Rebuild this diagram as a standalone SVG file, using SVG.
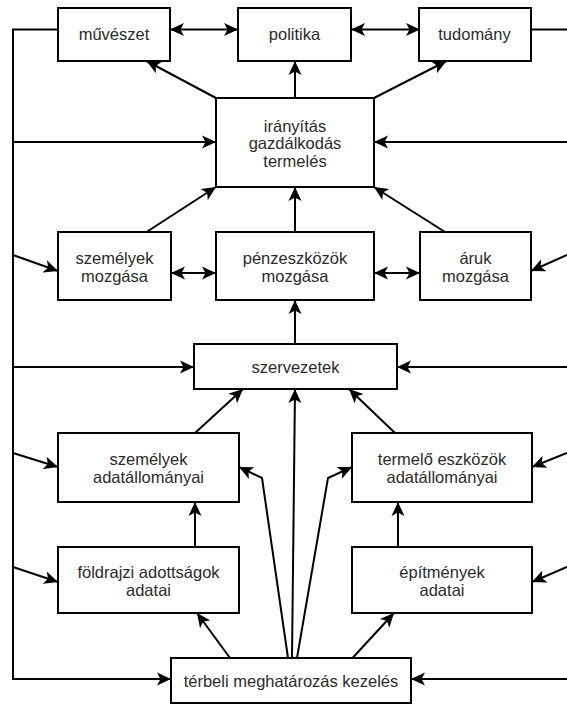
<svg xmlns="http://www.w3.org/2000/svg" width="567" height="704" viewBox="0 0 567 704">
<style>
.box{fill:#fff;stroke:#000;stroke-width:2}
.t{font-family:"Liberation Sans",Arial,sans-serif;font-size:16.5px;fill:#2b2b2b;text-anchor:middle}
.c{fill:none;stroke:#000;stroke-width:2}
.a{marker-end:url(#ah)}
.d{marker-start:url(#ah);marker-end:url(#ah)}
</style>
<defs>
<marker id="ah" markerUnits="userSpaceOnUse" markerWidth="15" markerHeight="14" viewBox="0 0 15 14" refX="14" refY="7" orient="auto-start-reverse">
<path d="M0,0.5 L14,7 L0,13.5 L3.5,7 z" fill="#000"/>
</marker>
</defs>
<rect width="567" height="704" fill="#fff"/>
<g id="connectors">
<path class="c a" d="M58 29.5 H13 V679 H171"/>
<path class="c" d="M531 29.5 H567"/>
<path class="c a" d="M13 142 H216"/>
<path class="c a" d="M567 142 H374"/>
<path class="c a" d="M13 255 L58 271"/>
<path class="c a" d="M567 255 L531 271"/>
<path class="c a" d="M13 367 H194"/>
<path class="c a" d="M567 367 H397"/>
<path class="c a" d="M13 453 L58 467"/>
<path class="c a" d="M567 453 L532 467"/>
<path class="c a" d="M13 567 L58 582"/>
<path class="c a" d="M567 567 L532 582"/>
<path class="c a" d="M567 679 H411"/>
<path class="c d" d="M170 29.5 H238"/>
<path class="c d" d="M351 29.5 H420"/>
<path class="c d" d="M171 273 H216"/>
<path class="c d" d="M374 273 H420"/>
<path class="c a" d="M216 98 L146.5 61"/>
<path class="c a" d="M295 98 V61"/>
<path class="c a" d="M374 98 L446.5 61"/>
<path class="c a" d="M146.5 232 L216 187"/>
<path class="c a" d="M295 232 V187"/>
<path class="c a" d="M445 232 L374 187"/>
<path class="c a" d="M295 344 V300"/>
<path class="c a" d="M195 433 L243 389"/>
<path class="c a" d="M395 433 L349 389"/>
<path class="c a" d="M292 658 L295 389"/>
<path class="c a" d="M288 658 L262 478 L239 467"/>
<path class="c a" d="M297 658 L328 478 L352 467"/>
<path class="c a" d="M195 547 V502"/>
<path class="c a" d="M398 547 V502"/>
<path class="c a" d="M230 658 L197 613"/>
<path class="c a" d="M352.5 658 L394 613"/>
</g>
<g id="muveszet"><rect class="box" x="58" y="8" width="112" height="53"/><text class="t" x="114" y="39.5">művészet</text></g>
<g id="politika"><rect class="box" x="238" y="8" width="113" height="53"/><text class="t" x="294.5" y="39.5">politika</text></g>
<g id="tudomany"><rect class="box" x="419" y="8" width="112" height="53"/><text class="t" x="474.5" y="39.5">tudomány</text></g>
<g id="iranyitas"><rect class="box" x="216" y="98" width="158" height="89"/><text class="t" x="295" y="131.5">irányítás</text><text class="t" x="295" y="149">gazdálkodás</text><text class="t" x="295" y="166.5">termelés</text></g>
<g id="szemelyek-mozgasa"><rect class="box" x="58" y="232" width="113" height="68"/><text class="t" x="114.5" y="264">személyek</text><text class="t" x="114.5" y="282">mozgása</text></g>
<g id="penzeszkozok-mozgasa"><rect class="box" x="216" y="232" width="158" height="68"/><text class="t" x="295" y="264">pénzeszközök</text><text class="t" x="295" y="282">mozgása</text></g>
<g id="aruk-mozgasa"><rect class="box" x="420" y="232" width="111" height="68"/><text class="t" x="475.5" y="264">áruk</text><text class="t" x="475.5" y="282">mozgása</text></g>
<g id="szervezetek"><rect class="box" x="194" y="344" width="203" height="45"/><text class="t" x="295.5" y="372.5">szervezetek</text></g>
<g id="szemelyek-adatallomanyai"><rect class="box" x="58" y="433" width="181" height="69"/><text class="t" x="148.5" y="465">személyek</text><text class="t" x="148.5" y="483">adatállományai</text></g>
<g id="termelo-eszkozok-adatallomanyai"><rect class="box" x="352" y="433" width="180" height="69"/><text class="t" x="442" y="465">termelő eszközök</text><text class="t" x="442" y="483">adatállományai</text></g>
<g id="foldrajzi-adottsagok-adatai"><rect class="box" x="58" y="547" width="181" height="66"/><text class="t" x="148.5" y="577.5">földrajzi adottságok</text><text class="t" x="148.5" y="595.5">adatai</text></g>
<g id="epitmenyek-adatai"><rect class="box" x="352" y="547" width="180" height="66"/><text class="t" x="442" y="577.5">építmények</text><text class="t" x="442" y="595.5">adatai</text></g>
<g id="terbeli-meghatarozas-kezeles"><rect class="box" x="171" y="658" width="240" height="45"/><text class="t" x="291" y="686.5">térbeli meghatározás kezelés</text></g>
</svg>
